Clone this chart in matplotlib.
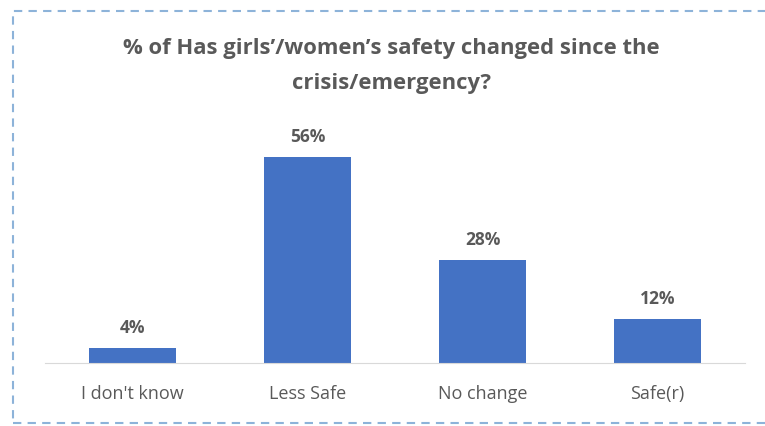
import matplotlib.pyplot as plt
from matplotlib.patches import Rectangle

categories = ["I don't know", "Less Safe", "No change", "Safe(r)"]
values = [4, 56, 28, 12]
title = "% of Has girls\u2019/women\u2019s safety changed since the\ncrisis/emergency?"

plt.rcParams['font.family'] = ['Open Sans', 'DejaVu Sans']
text_color = '#595959'
bar_color = '#4472c4'

fig = plt.figure(figsize=(7.65, 4.26), dpi=100)
ax = fig.add_axes([45 / 765, 1 - 363 / 426, 700 / 765, 221 / 426])

x = range(len(categories))
ax.bar(x, values, width=0.5, color=bar_color)
for xi, v in zip(x, values):
    ax.annotate(f'{v}%', (xi, v), xytext=(0, 8), textcoords='offset points',
                ha='center', va='bottom', fontsize=12.5, fontweight='bold', color=text_color)

ax.set_xlim(-0.5, len(categories) - 0.5)
ax.set_ylim(0, 60)
ax.set_xticks(list(x))
ax.set_xticklabels(categories, fontsize=13, color=text_color)
ax.tick_params(axis='x', length=0, pad=16)
ax.set_yticks([])
for side in ['top', 'left', 'right']:
    ax.spines[side].set_visible(False)
ax.spines['bottom'].set_color('#d9d9d9')

fig.text(0.512, 1 - 66 / 426, title, ha='center', va='center', fontsize=15.8,
         fontweight='bold', color=text_color, linespacing=1.9)

# dashed frame, runs off the right edge like the screenshot
frame = Rectangle((13 / 765, 3 / 426), 770 / 765, 412 / 426, transform=fig.transFigure,
                  fill=False, edgecolor='#8db3d9', linestyle=(0, (4, 3)), linewidth=1.5)
fig.patches.append(frame)

fig.savefig('out.png', dpi=100)
